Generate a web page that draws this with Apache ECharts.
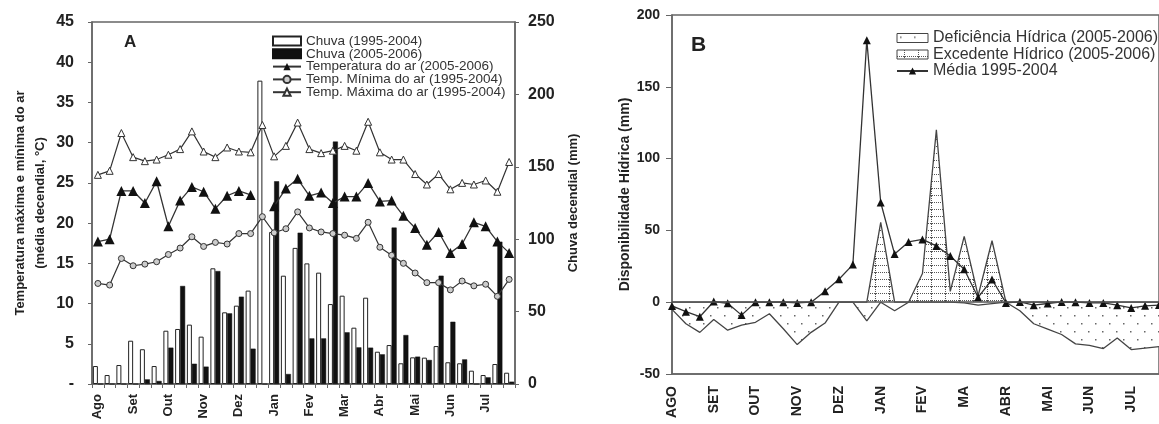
<!DOCTYPE html>
<html><head><meta charset="utf-8">
<script src="https://cdn.jsdelivr.net/npm/echarts@6/dist/echarts.min.js"></script>
<style>html,body{margin:0;padding:0;background:#fff}#c{width:1159px;height:424px}</style>
</head><body><div id="c"></div>
<script>
// ---------- Panel A data (36 decendial periods, Ago..Jul) ----------
const monthsA = ['Ago','Set','Out','Nov','Dez','Jan','Fev','Mar','Abr','Mai','Jun','Jul'];
const monthsB = ['AGO','SET','OUT','NOV','DEZ','JAN','FEV','MA','ABR','MAI','JUN','JUL'];
const decades = [];
monthsA.forEach(m => { decades.push(m + ' 1', m + ' 2', m + ' 3'); });

const rain9504 = [12.4, 6.2, 13.1, 29.9, 24.0, 12.4, 36.8, 38.0, 41.0, 32.7, 79.9, 49.5, 54.1, 64.5, 209.5, 105, 74.8, 94, 83.3, 76.9, 55.2, 61.0, 38.9, 59.6, 22.3, 26.9, 14.3, 18.4, 18.2, 26.2, 15.0, 14.3, 9.2, 6.2, 13.8, 7.8];
const rain0506 = [0, 0, 0, 0, 3.2, 2.1, 25.1, 67.7, 14.0, 12.0, 78.0, 48.8, 60.3, 24.4, 0, 140, 6.9, 104.5, 31.5, 31.5, 167.4, 35.7, 25.3, 25.1, 20.5, 108, 33.8, 18.9, 16.6, 74.8, 43.0, 17.0, 0, 4.6, 98.3, 1.6];
const tempAir0506 = [17.7, 18.0, 24.0, 24.0, 22.5, 25.2, 19.6, 22.8, 24.5, 23.9, 21.8, 23.4, 24.0, 23.5, null, 22.1, 24.3, 25.5, 23.4, 23.8, 22.5, 23.3, 23.3, 25.0, 22.7, 22.8, 20.9, 19.4, 17.3, 18.9, 16.3, 17.4, 20.1, 19.6, 17.7, 16.3];
const tempMin9504 = [12.5, 12.3, 15.6, 14.7, 14.9, 15.2, 16.1, 16.9, 18.3, 17.1, 17.6, 17.4, 18.7, 18.7, 20.8, 18.8, 19.3, 21.4, 19.4, 18.9, 18.7, 18.5, 18.1, 20.1, 17.0, 16.0, 15.0, 13.8, 12.6, 12.6, 11.7, 12.8, 12.2, 12.4, 10.9, 13.0];
const tempMax9504 = [26.0, 26.5, 31.2, 28.2, 27.7, 27.9, 28.5, 29.2, 31.4, 28.9, 28.2, 29.4, 28.9, 28.8, 32.2, 28.3, 29.6, 32.5, 29.2, 28.7, 29.0, 29.6, 29.0, 32.6, 28.8, 27.9, 27.9, 26.1, 24.8, 26.1, 24.2, 25.0, 24.8, 25.3, 23.9, 27.6];

// ---------- Panel B data ----------
const deficit0506 = [-5, -15, -21, -12, -19.5, -16, -14, -8, -18.5, -29.5, -21, -14.5, 0, 0, -13, 0, -6, 0, 0, 0, 0, -0.5, -2, -1, 0, -6, -15, -18.7, -22.5, -29, -30, -32.3, -25, -33, -32, -31];
const excess0506 = [0, 0, 0, 0, 0, 0, 0, 0, 0, 0, 0, 0, 0, 0, 0, 55.6, 0, 0, 20, 120, 7.5, 45.8, 4.5, 42.8, 0, 0, 0, 0, 0, 0, 0, 0, 0, 0, 0, 0];
const media9504 = [-2.6, -6.6, -10.1, 0.5, -0.8, -9, 0, 0, 0, -0.5, 0, 7.7, 16.0, 26.2, 182.5, 69.4, 33.5, 42.0, 43.7, 39.2, 32.2, 23.0, 3.3, 15.8, -0.5, 0.2, -2.1, -0.9, 0.2, 0, -0.5, -0.5, -2.1, -4, -2.5, -2];

const FONT = 'Arial, "Liberation Sans", Helvetica, sans-serif';

function dotPattern() {
  const c = document.createElement('canvas'); c.width = 14; c.height = 16;
  const g = c.getContext('2d');
  g.fillStyle = '#fff'; g.fillRect(0, 0, 14, 16);
  g.fillStyle = '#666';
  g.fillRect(3, 3, 1.5, 1.5); g.fillRect(10, 11, 1.5, 1.5);
  return c;
}
function hatchPattern() {
  const c = document.createElement('canvas'); c.width = 14; c.height = 7;
  const g = c.getContext('2d');
  g.fillStyle = '#fff'; g.fillRect(0, 0, 14, 7);
  g.fillStyle = '#555';
  for (let y = 0; y < 7; y += 2) g.fillRect(7, y, 1, 1);
  for (let x = 0; x < 14; x += 2) g.fillRect(x, 6, 1, 1);
  return c;
}
const dotFill = { image: dotPattern(), repeat: 'repeat' };
const hatchFill = { image: hatchPattern(), repeat: 'repeat' };

const chart = echarts.init(document.getElementById('c'));
const axisCol = '#666';
const lblStyle = { color: '#222', fontWeight: 'bold', fontFamily: FONT };

chart.setOption({
  animation: false,
  backgroundColor: '#fff',
  textStyle: { fontFamily: FONT },
  grid: [
    { left: 92, top: 22, width: 423, height: 362, show: true, borderColor: axisCol, borderWidth: 1.5, backgroundColor: 'transparent' },
    { left: 672, top: 15, width: 506, height: 359, show: true, borderColor: axisCol, borderWidth: 1.5, backgroundColor: 'transparent' }
  ],
  graphic: [
    { type: 'text', left: 124, top: 34, style: { text: 'A', font: 'bold 17px ' + FONT, fill: '#222' } },
    { type: 'text', left: 691, top: 35, style: { text: 'B', font: 'bold 21px ' + FONT, fill: '#222' } }
  ],
  legend: [
    {
      left: 272, top: 34, padding: 0, orient: 'vertical', itemWidth: 28, itemHeight: 9, itemGap: -1.2,
      textStyle: { fontSize: 13.5, color: '#333', fontFamily: FONT },
      data: [
        { name: 'Chuva (1995-2004)', icon: 'rect' },
        { name: 'Chuva (2005-2006)', icon: 'rect' },
        'Temperatura do ar (2005-2006)',
        'Temp. Mínima do ar (1995-2004)',
        'Temp. Máxima do ar (1995-2004)'
      ]
    },
    {
      left: 896, top: 30, padding: 0, orient: 'vertical', itemWidth: 31, itemHeight: 9, itemGap: 0.5,
      textStyle: { fontSize: 16, color: '#333', fontFamily: FONT },
      data: [
        { name: 'Deficiência Hídrica (2005-2006)', icon: 'rect', itemStyle: { color: dotFill, borderColor: '#444', borderWidth: 1 } },
        { name: 'Excedente Hídrico (2005-2006)', icon: 'rect', itemStyle: { color: hatchFill, borderColor: '#444', borderWidth: 1 } },
        'Média 1995-2004'
      ]
    }
  ],
  xAxis: [
    {
      type: 'category', gridIndex: 0, data: decades, boundaryGap: true,
      axisLine: { lineStyle: { color: axisCol, width: 1.5 } },
      axisTick: { show: true, interval: 0, length: 4, lineStyle: { color: axisCol } },
      axisLabel: Object.assign({ interval: 0, rotate: 90, margin: 10, fontSize: 13,
        formatter: (v, i) => (i % 3 === 0 ? monthsA[i / 3] : '') }, lblStyle),
      splitLine: { show: false }
    },
    {
      type: 'category', gridIndex: 1, data: decades, boundaryGap: false,
      axisLine: { onZero: false, lineStyle: { color: axisCol, width: 1.5 } },
      axisTick: { show: false },
      axisLabel: Object.assign({ interval: 0, rotate: 90, margin: 12, fontSize: 14,
        formatter: (v, i) => (i % 3 === 0 ? monthsB[i / 3] : '') }, lblStyle),
      splitLine: { show: false }
    }
  ],
  yAxis: [
    {
      type: 'value', gridIndex: 0, position: 'left', min: 0, max: 45, interval: 5,
      axisLine: { show: true, lineStyle: { color: axisCol, width: 1.5 } },
      axisTick: { show: true, length: 4, lineStyle: { color: axisCol } },
      splitLine: { show: false },
      axisLabel: Object.assign({ fontSize: 16, margin: 18, formatter: v => (v === 0 ? '-' : String(v)) }, lblStyle),
      name: 'Temperatura máxima e mínima do ar\n(média decendial, °C)',
      nameLocation: 'middle', nameRotate: 90, nameGap: 42,
      nameTextStyle: { fontSize: 13, fontWeight: 'bold', lineHeight: 20, color: '#222', fontFamily: FONT }
    },
    {
      type: 'value', gridIndex: 0, position: 'right', min: 0, max: 250, interval: 50,
      axisLine: { show: true, lineStyle: { color: axisCol, width: 1.5 } },
      axisTick: { show: true, length: 4, lineStyle: { color: axisCol } },
      splitLine: { show: false },
      axisLabel: Object.assign({ fontSize: 16, margin: 13 }, lblStyle),
      name: 'Chuva decendial (mm)',
      nameLocation: 'middle', nameRotate: 90, nameGap: 52,
      nameTextStyle: { fontSize: 13, fontWeight: 'bold', color: '#222', fontFamily: FONT }
    },
    {
      type: 'value', gridIndex: 1, position: 'left', min: -50, max: 200, interval: 50,
      axisLine: { show: true, onZero: false, lineStyle: { color: axisCol, width: 1.5 } },
      axisTick: { show: true, length: 6, lineStyle: { color: axisCol } },
      splitLine: { show: false },
      axisLabel: Object.assign({ fontSize: 14, margin: 12 }, lblStyle),
      name: 'Disponibilidade Hídrica (mm)',
      nameLocation: 'middle', nameRotate: 90, nameGap: 40,
      nameTextStyle: { fontSize: 14, fontWeight: 'bold', color: '#222', fontFamily: FONT }
    }
  ],
  series: [
    {
      name: 'Chuva (1995-2004)', type: 'bar', xAxisIndex: 0, yAxisIndex: 1, data: rain9504,
      barWidth: 5, barGap: '0%',
      itemStyle: { color: '#fff', borderColor: '#222', borderWidth: 1 }, z: 2
    },
    {
      name: 'Chuva (2005-2006)', type: 'bar', xAxisIndex: 0, yAxisIndex: 1, data: rain0506,
      barWidth: 5, barGap: '0%',
      itemStyle: { color: '#111', borderColor: '#111', borderWidth: 0.5 }, z: 2
    },
    {
      name: 'Temperatura do ar (2005-2006)', type: 'line', xAxisIndex: 0, yAxisIndex: 0, data: tempAir0506,
      connectNulls: false, symbol: 'triangle', symbolSize: 10,
      itemStyle: { color: '#111' }, lineStyle: { color: '#333', width: 1.3 }, z: 4
    },
    {
      name: 'Temp. Mínima do ar (1995-2004)', type: 'line', xAxisIndex: 0, yAxisIndex: 0, data: tempMin9504,
      symbol: 'circle', symbolSize: 6,
      itemStyle: { color: '#ccc', borderColor: '#333', borderWidth: 1 }, lineStyle: { color: '#333', width: 1.2 }, z: 4
    },
    {
      name: 'Temp. Máxima do ar (1995-2004)', type: 'line', xAxisIndex: 0, yAxisIndex: 0, data: tempMax9504,
      symbol: 'triangle', symbolSize: 7,
      itemStyle: { color: '#fff', borderColor: '#333', borderWidth: 1 }, lineStyle: { color: '#333', width: 1.2 }, z: 4
    },
    {
      name: 'Deficiência Hídrica (2005-2006)', type: 'line', xAxisIndex: 1, yAxisIndex: 2, data: deficit0506,
      symbol: 'none', lineStyle: { color: '#444', width: 1.3 },
      areaStyle: { color: dotFill, opacity: 1 }, z: 2
    },
    {
      name: 'Excedente Hídrico (2005-2006)', type: 'line', xAxisIndex: 1, yAxisIndex: 2, data: excess0506,
      symbol: 'none', lineStyle: { color: '#444', width: 1.3 },
      areaStyle: { color: hatchFill, opacity: 1 }, z: 2
    },
    {
      name: 'Média 1995-2004', type: 'line', xAxisIndex: 1, yAxisIndex: 2, data: media9504,
      symbol: 'triangle', symbolSize: 8,
      itemStyle: { color: '#111' }, lineStyle: { color: '#333', width: 1.3 }, z: 4,
      markLine: {
        silent: true, symbol: 'none', label: { show: false },
        lineStyle: { color: '#555', width: 1.5, type: 'solid' },
        data: [{ yAxis: 0 }]
      }
    }
  ]
});
</script>
</body></html>
